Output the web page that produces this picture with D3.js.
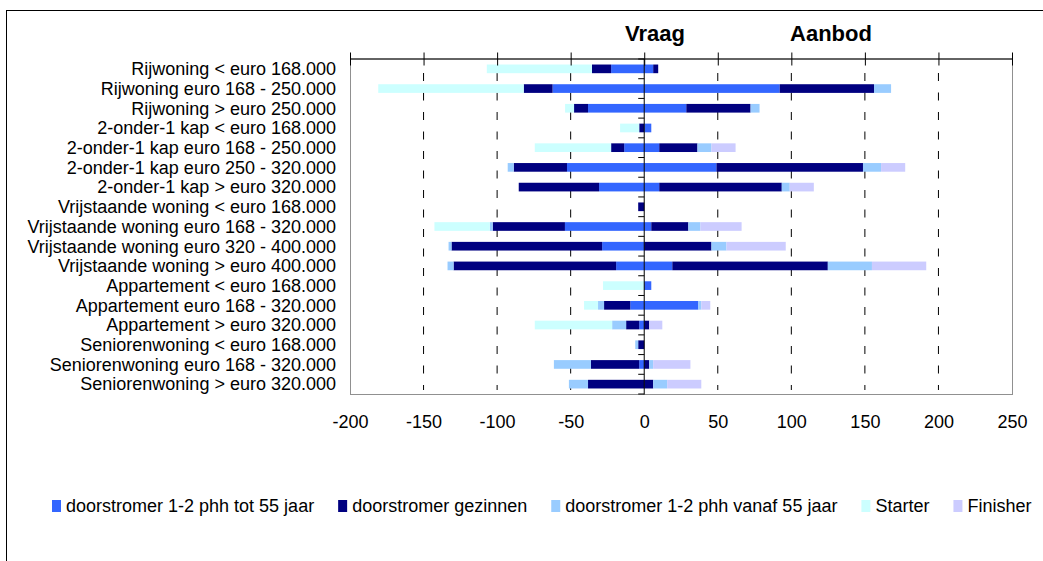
<!DOCTYPE html>
<html>
<head>
<meta charset="utf-8">
<script src="https://cdn.jsdelivr.net/npm/d3@7"></script>
<style>
  body { margin: 0; background: #fff; }
  svg text { font-family: "Liberation Sans", Arial, sans-serif; fill: #000; }
</style>
</head>
<body>
<div id="wrapper"></div>
<script>
// categories, top to bottom
const categories = [
  "Rijwoning < euro 168.000",
  "Rijwoning euro 168 - 250.000",
  "Rijwoning > euro 250.000",
  "2-onder-1 kap < euro 168.000",
  "2-onder-1 kap euro 168 - 250.000",
  "2-onder-1 kap euro 250 - 320.000",
  "2-onder-1 kap > euro 320.000",
  "Vrijstaande woning < euro 168.000",
  "Vrijstaande woning euro 168 - 320.000",
  "Vrijstaande woning euro 320 - 400.000",
  "Vrijstaande woning > euro 400.000",
  "Appartement < euro 168.000",
  "Appartement euro 168 - 320.000",
  "Appartement > euro 320.000",
  "Seniorenwoning < euro 168.000",
  "Seniorenwoning euro 168 - 320.000",
  "Seniorenwoning > euro 320.000"
];

const seriesNames = [
  "doorstromer 1-2 phh tot 55 jaar",
  "doorstromer gezinnen",
  "doorstromer 1-2 phh vanaf 55 jaar",
  "Starter",
  "Finisher"
];
const seriesColors = ["#3366FF", "#000080", "#99CCFF", "#CCFFFF", "#CCCCFF"];

// Vraag (demand, drawn to the left as negative values)
const vraagTot55    = [-22.5, -62.3, -38.2, 0, -13.6, -52.5, -30.7, 0, -53.9, -28.6, -19.1, 0, -9.5, -3.4, 0, -3.4, 0];
const vraagGezinnen = [-13, -19.6, -9.5, -3.4, -8.9, -36.2, -54.6, -4.1, -49.1, -102.4, -110.5, 0, -17.8, -8.9, -4.1, -32.8, -38.2];
const vraagVanaf55  = [0, 0, 0, 0, 0, -4.1, 0, 0, -2, -2, -4.1, 0, -4.1, -9.5, -2, -25.2, -13];
const vraagStarter  = [-71.5, -98.9, -6.1, -13, -51.9, 0, 0, 0, -37.6, 0, 0, -28, -9.5, -52.6, 0, 0, 0];
const vraagFinisher = [0, 0, 0, 0, 0, 0, 0, 0, 0, 0, 0, 0, 0, 0, 0, 0, 0];

// Aanbod (supply, drawn to the right)
const aanbodTot55    = [6.1, 92.1, 28.6, 4.8, 10.2, 49.1, 10.2, 0, 4.8, 0, 19.1, 4.8, 36.8, 0, 0, 0, 0];
const aanbodGezinnen = [3.4, 64.1, 43.7, 0, 26, 99.6, 83.3, 0, 25.2, 45.7, 105.7, 0, 0, 3.4, 0, 3.4, 6.1];
const aanbodVanaf55  = [0, 11.6, 6.1, 0, 9.5, 12.3, 5.4, 0, 8.2, 10.2, 30, 0, 2, 0, 0, 2.7, 9.5];
const aanbodStarter  = [0, 0, 0, 0, 0, 0, 0, 0, 0, 0, 0, 0, 0, 0, 0, 0, 0];
const aanbodFinisher = [0, 0, 0, 0, 16.4, 16.4, 16.4, 0, 28, 40.3, 36.9, 0, 6.1, 8.9, 0, 25.3, 23.2];

const xTicks = [-200, -150, -100, -50, 0, 50, 100, 150, 200, 250];

const vraag = [vraagTot55, vraagGezinnen, vraagVanaf55, vraagStarter, vraagFinisher];
const aanbod = [aanbodTot55, aanbodGezinnen, aanbodVanaf55, aanbodStarter, aanbodFinisher];

// keys: v0..v4 (negative), a0..a4 (positive)
const keys = [];
seriesNames.forEach((s, i) => keys.push("v" + i));
seriesNames.forEach((s, i) => keys.push("a" + i));

const table = categories.map((c, j) => {
  const row = {cat: c};
  seriesNames.forEach((s, i) => {
    row["v" + i] = vraag[i][j];
    row["a" + i] = aanbod[i][j];
  });
  return row;
});

const stacked = d3.stack()
  .keys(keys)
  .offset(d3.stackOffsetDiverging)(table);

const width = 1043, height = 561;
const plot = {left: 350, right: 1012, top: 59, bottom: 394};

const svg = d3.select("#wrapper")
  .append("svg")
  .attr("width", width)
  .attr("height", height);

// outer chart frame
svg.append("rect")
  .attr("x", 6.5).attr("y", 10.5)
  .attr("width", 1100).attr("height", 600)
  .attr("fill", "none").attr("stroke", "#000");

const x = d3.scaleLinear().domain([-200, 250]).range([plot.left, plot.right]);
const y = d3.scaleBand().domain(categories)
  .range([plot.top, plot.bottom])
  .paddingInner(0.56).paddingOuter(0.28);

// plot area border
svg.append("rect")
  .attr("x", plot.left + 0.5).attr("y", plot.top)
  .attr("width", plot.right - plot.left).attr("height", plot.bottom - plot.top + 0.5)
  .attr("fill", "none").attr("stroke", "#909090");

// dashed grid
svg.append("g")
  .selectAll("line")
  .data(xTicks.filter(t => t !== 0 && t !== -200 && t !== 250))
  .join("line")
  .attr("x1", d => x(d)).attr("x2", d => x(d))
  .attr("y1", 73).attr("y2", 390)
  .attr("stroke", "#000")
  .attr("stroke-dasharray", "8,11.5");

// bars
svg.append("g")
  .selectAll("g")
  .data(stacked)
  .join("g")
  .attr("fill", d => seriesColors[+d.key.slice(1)])
  .selectAll("rect")
  .data(d => d.filter(p => p[1] - p[0] !== 0))
  .join("rect")
  .attr("x", d => x(d[0]))
  .attr("width", d => x(d[1]) - x(d[0]))
  .attr("y", d => y(d.data.cat))
  .attr("height", y.bandwidth());

// top axis (no labels), ticks crossing the line
const topAxis = svg.append("g")
  .attr("transform", `translate(0,${plot.top - 0.5})`)
  .call(d3.axisTop(x).tickValues(xTicks).tickSizeInner(6).tickSizeOuter(0).tickFormat(""));
topAxis.select(".domain").attr("stroke", "#000");
topAxis.selectAll(".tick line").attr("y1", 7).attr("stroke", "#000");

// tick labels below the plot (plain hyphen for negatives)
const botAxis = svg.append("g")
  .attr("transform", `translate(0,${plot.bottom})`)
  .call(d3.axisBottom(x).tickValues(xTicks).tickSize(0).tickPadding(21)
    .tickFormat(d => String(d)));
botAxis.select(".domain").remove();
botAxis.selectAll("text")
  .style("font-size", "18px")
  .style("font-family", "'Liberation Sans', Arial, sans-serif");

// zero axis with category ticks
const step = y.step();
svg.append("line")
  .attr("x1", x(0)).attr("x2", x(0))
  .attr("y1", plot.top).attr("y2", plot.bottom + 0.5)
  .attr("stroke", "#000");
svg.append("g")
  .selectAll("line")
  .data(d3.range(0, categories.length + 1))
  .join("line")
  .attr("x1", x(0) - 6).attr("x2", x(0))
  .attr("y1", k => plot.top + k * step)
  .attr("y2", k => plot.top + k * step)
  .attr("stroke", "#000");

// category labels
svg.append("g")
  .selectAll("text")
  .data(categories)
  .join("text")
  .attr("x", 336)
  .attr("y", d => y(d) + y.bandwidth() / 2)
  .attr("dy", "0.35em")
  .attr("text-anchor", "end")
  .style("font-size", "18px")
  .text(d => d);

// side titles
svg.append("text")
  .attr("x", 655).attr("y", 41)
  .attr("text-anchor", "middle")
  .style("font-size", "22px").style("font-weight", "bold")
  .text("Vraag");
svg.append("text")
  .attr("x", 831).attr("y", 41)
  .attr("text-anchor", "middle")
  .style("font-size", "22px").style("font-weight", "bold")
  .text("Aanbod");

// legend
const legend = svg.append("g");
let lx = 52;
seriesNames.forEach((name, i) => {
  legend.append("rect")
    .attr("x", lx).attr("y", 500)
    .attr("width", 9).attr("height", 12)
    .attr("fill", seriesColors[i]);
  const t = legend.append("text")
    .attr("x", lx + 14).attr("y", 512)
    .style("font-size", "18px")
    .text(name);
  lx += 14 + t.node().getComputedTextLength() + 24;
});
</script>
</body>
</html>
